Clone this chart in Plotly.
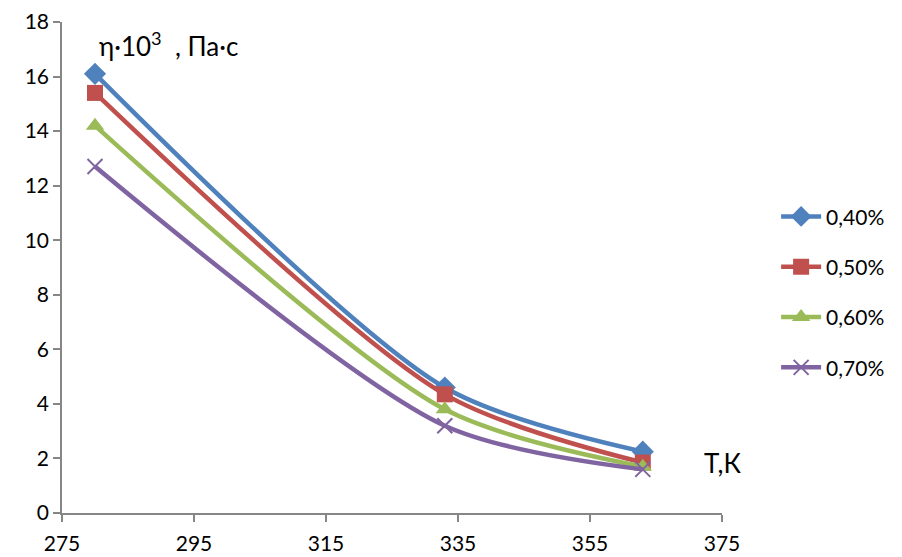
import plotly.graph_objects as go

# Temperature, K
temperature = [280, 333, 363]

# Viscosity η·10³ (Pa·s) for each concentration
series_names = ["0,40%", "0,50%", "0,60%", "0,70%"]
visc_040 = [16.1, 4.6, 2.25]
visc_050 = [15.4, 4.35, 1.85]
visc_060 = [14.2, 3.8, 1.7]
visc_070 = [12.7, 3.2, 1.6]

x_ticks = [275, 295, 315, 335, 355, 375]
y_ticks = [0, 2, 4, 6, 8, 10, 12, 14, 16, 18]

colors = ["#4F81BD", "#C0504D", "#9BBB59", "#8064A2"]
symbols = ["diamond", "square", "triangle-up", "x-thin"]
sizes = [17, 16, 16, 15]

FONT = "Lato, 'Open Sans', sans-serif"

fig = go.Figure()
for i, (name, ys) in enumerate(zip(series_names, [visc_040, visc_050, visc_060, visc_070])):
    marker = dict(symbol=symbols[i], size=sizes[i], color=colors[i])
    if symbols[i] == "x-thin":
        marker["line"] = dict(color=colors[i], width=2)
    fig.add_trace(go.Scatter(
        x=temperature, y=ys, name=name, mode="lines+markers",
        line=dict(color=colors[i], width=4.5, shape="spline", smoothing=0.8),
        marker=marker, legendgroup=name,
    ))

axis_common = dict(
    showgrid=False, zeroline=False, showline=True, automargin=False,
    linecolor="#868686", linewidth=1.5,
    ticks="outside", tickcolor="#868686", ticklen=7, tickwidth=1.5,
    tickfont=dict(family=FONT, size=21, color="#000000"),
)

fig.update_layout(
    width=902, height=557,
    margin=dict(l=62, r=178, t=22, b=44),
    paper_bgcolor="white", plot_bgcolor="white",
    xaxis=dict(range=[275, 375], tickvals=x_ticks, ticklabelstandoff=4, **axis_common),
    yaxis=dict(range=[0, 18], tickvals=y_ticks, **axis_common),
    legend=dict(
        x=1.082, y=0.645, xanchor="left", yanchor="top",
        font=dict(family=FONT, size=21, color="#000000"),
        tracegroupgap=20, itemwidth=40, bgcolor="rgba(0,0,0,0)",
    ),
    showlegend=True,
    annotations=[
        dict(text="η·10<sup>3</sup>  , Па·с", x=97, y=45, xref="paper", yref="paper",
             showarrow=False, xanchor="left", yanchor="middle",
             font=dict(family=FONT, size=26, color="#000000")),
        dict(text="Т,К", x=704, y=463, xref="paper", yref="paper",
             showarrow=False, xanchor="left", yanchor="middle",
             font=dict(family=FONT, size=26, color="#000000")),
    ],
)

# place annotations by pixel position within the plot area
plot_w, plot_h = 902 - 62 - 178, 557 - 22 - 44
for ann in fig.layout.annotations:
    ann.x = (ann.x - 62) / plot_w
    ann.y = 1 - (ann.y - 22) / plot_h

fig.write_html("out.html")
